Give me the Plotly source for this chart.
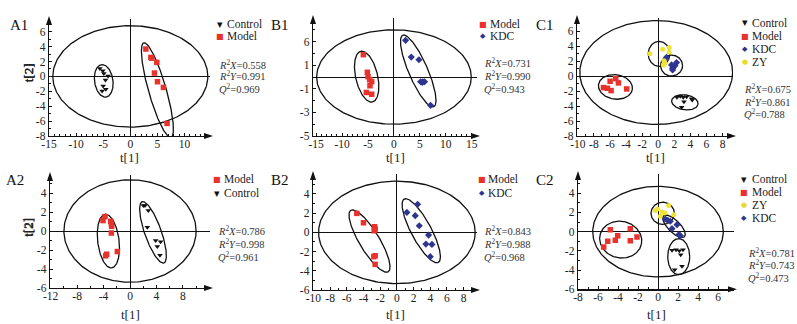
import numpy as np
import plotly.graph_objects as go

W, H = 797, 324

# ---------------- data ----------------
A1_control_x = [-5.62, -5.07, -4.89, -4.10, -4.58, -5.01, -4.52, -5.20]
A1_control_y = [1.07, 0.76, 0.40, 0.04, -0.49, -1.30, -1.74, -1.97]
A1_model_x = [2.87, 3.79, 3.95, 4.89, 4.46, 5.01, 6.11, 6.78]
A1_model_y = [3.67, 2.55, 2.45, 1.88, 0.45, -0.72, -1.48, -6.31]
A1_stats = ["0.558", "0.991", "0.969"]

B1_model_x = [-5.90, -5.13, -5.00, -4.68, -4.29, -4.62, -5.32, -4.29]
B1_model_y = [1.89, 0.40, 0.03, -0.23, -0.40, -0.74, -1.31, -1.46]
B1_kdc_x = [2.24, 3.33, 4.81, 5.13, 5.58, 5.90, 5.45, 7.05]
B1_kdc_y = [3.11, 1.69, 1.46, -0.40, -0.40, -0.40, -0.46, -2.40]
B1_stats = ["0.731", "0.990", "0.943"]
B1_ytick_vals = [-5, -3, -1, 1, 3]
B1_ytick_text = ["-5", "-3", "-1", "1", "6"]

C1_control_x = [2.33, 2.74, 3.11, 3.53, 4.15, 4.23, 3.20, 2.91]
C1_control_y = [-2.82, -2.68, -2.82, -2.73, -3.00, -3.18, -3.40, -4.16]
C1_model_x = [-5.98, -5.28, -4.95, -6.81, -6.32, -5.86, -3.92]
C1_model_y = [-0.67, -0.31, -0.89, -1.52, -1.61, -1.92, -1.70]
C1_kdc_x = [1.04, 1.66, 1.79, 2.28, 2.07, 1.79]
C1_kdc_y = [2.55, 1.52, 1.07, 1.83, 1.39, 0.85]
C1_zy_x = [-1.03, 0.55, 1.37, 1.37, 0.71, 0.83, 0.63]
C1_zy_y = [3.00, 3.62, 3.85, 3.22, 2.06, 1.74, 1.52]
C1_stats = ["0.675", "0.861", "0.788"]

A2_model_x = [-3.78, -4.08, -2.92, -2.82, -2.77, -2.82, -1.91, -3.53, -3.68]
A2_model_y = [1.52, 1.10, 1.02, 0.74, 0.49, -0.21, -2.16, -2.44, -2.61]
A2_control_x = [2.02, 2.27, 2.77, 2.62, 3.88, 4.63, 4.13, 4.53]
A2_control_y = [2.69, 2.69, 2.16, 0.39, -0.99, -1.13, -1.63, -2.54]
A2_stats = ["0.786", "0.998", "0.961"]

B2_model_x = [-4.80, -4.00, -2.68, -2.60, -2.72, -2.60, -2.76, -2.60]
B2_model_y = [1.98, 1.00, 0.59, 0.35, 0.17, -2.43, -2.53, -3.33]
B2_kdc_x = [1.20, 2.48, 2.20, 2.68, 3.80, 3.48, 4.20, 4.00]
B2_kdc_y = [2.08, 2.92, 1.74, 0.69, -0.28, -1.22, -1.25, -2.53]
B2_stats = ["0.843", "0.988", "0.968"]

C2_control_x = [1.40, 1.80, 2.13, 2.50, 2.27, 2.40, 1.67]
C2_control_y = [-1.94, -1.88, -1.98, -1.88, -2.40, -3.61, -3.96]
C2_model_x = [-4.77, -2.77, -4.03, -4.27, -5.03, -5.43, -2.77, -2.10]
C2_model_y = [0.21, 0.31, -0.42, -0.90, -1.00, -1.60, -0.94, -0.56]
C2_zy_x = [-0.27, -0.07, 0.40, 0.67, 1.07, 1.57, 0.23]
C2_zy_y = [2.19, 2.36, 2.05, 1.94, 2.71, 1.77, 1.60]
C2_kdc_x = [0.73, 0.97, 1.23, 1.90, 1.40, 2.07, 2.23]
C2_kdc_y = [1.32, 1.18, 1.08, 0.73, 0.31, -0.31, -0.42]
C2_stats = ["0.781", "0.743", "0.473"]

# ---------------- styles ----------------
FONT = "Liberation Serif"
STY = {
    "Control": dict(symbol="triangle-down", color="#111111", size=5, glyph="▾", gsize=11, gcolor="#111"),
    "Model": dict(symbol="square", color="#e8322b", size=5.5, glyph="■", gsize=8, gcolor="#e8322b"),
    "KDC": dict(symbol="diamond", color="#2e3590", size=5.5, glyph="◆", gsize=7, gcolor="#2e3590"),
    "ZY": dict(symbol="circle", color="#f1e236", size=5, glyph="●", gsize=7, gcolor="#e9d92a"),
}

panels = [
    dict(name="A1", xd=(49, 210), yd=(19, 136), xr=(-15, 14.7), yr=(-8, 7.7),
         xt=list(range(-15, 11, 5)), yt=list(range(-8, 7, 2)), xm=1, ym=1,
         groups=[("Control", A1_control_x, A1_control_y), ("Model", A1_model_x, A1_model_y)],
         ell=[(0, 0, 77.5, 50.7, 0), (-4.9, -0.6, 16.4, 9.2, -82), (5.0, -1.86, 49.3, 8.8, -74)],
         stats=A1_stats, lab=(19, 25), leg=(220, 226, [24, 36]), st=(218, [64, 76, 88]), t1=158),
    dict(name="B1", xd=(313, 477), yd=(18, 136), xr=(-15.6, 16), yr=(-5, 5),
         xt=list(range(-15, 16, 5)), yt=B1_ytick_vals, ytt=B1_ytick_text, xm=1, ym=1,
         groups=[("Model", B1_model_x, B1_model_y), ("KDC", B1_kdc_x, B1_kdc_y)],
         ell=[(0, 0, 77.3, 47.2, 0), (-5.26, 0.03, 26, 11, -77), (4.68, 0.51, 39, 9.5, -66.6)],
         stats=B1_stats, lab=(280, 25), leg=(483, 489, [24, 36]), st=(483, [63, 76, 88]), t1=158),
    dict(name="C1", xd=(577, 733), yd=(18, 136), xr=(-10.1, 9.3), yr=(-8, 7.8),
         xt=list(range(-10, 9, 2)), yt=list(range(-8, 7, 2)), xm=1, ym=1,
         groups=[("Control", C1_control_x, C1_control_y), ("Model", C1_model_x, C1_model_y),
                 ("KDC", C1_kdc_x, C1_kdc_y), ("ZY", C1_zy_x, C1_zy_y)],
         ell=[(-0.25, 0.5, 76.4, 51.9, 0), (-5.32, -1.43, 17.1, 12.2, -8), (3.31, -3.49, 13.3, 7.5, -8),
              (0.1, 3.0, 10.8, 12.5, 0), (1.66, 1.43, 11, 10.5, 0)],
         stats=C1_stats, lab=(545, 25), leg=(745, 751, [23, 36, 49, 62]), st=(743, [88, 101, 113]), t1=158),
    dict(name="A2", xd=(50, 210), yd=(175, 288), xr=(-12.1, 12.1), yr=(-6, 5.9),
         xt=list(range(-12, 9, 4)), yt=list(range(-6, 5, 2)), xm=2, ym=1,
         groups=[("Model", A2_model_x, A2_model_y), ("Control", A2_control_x, A2_control_y)],
         ell=[(0, 0, 66.1, 51.2, 0), (-3.27, -1.06, 27, 10.7, -83), (3.48, -0.14, 32.5, 8.3, -70.5)],
         stats=A2_stats, lab=(15, 180), leg=(217, 223, [179, 193]), st=(217, [231, 243, 256]), t1=314),
    dict(name="B2", xd=(313, 477), yd=(174, 290), xr=(-10.05, 9.6), yr=(-6, 6.08),
         xt=list(range(-10, 9, 2)), yt=list(range(-6, 5, 2)), xm=1, ym=1,
         groups=[("Model", B2_model_x, B2_model_y), ("KDC", B2_kdc_x, B2_kdc_y)],
         ell=[(0, 0, 78.3, 51.2, 0), (-3.28, -0.9, 36, 10, -58.8), (2.92, 0.17, 36, 10, -61.8)],
         stats=B2_stats, lab=(280, 180), leg=(482, 487, [179, 193]), st=(483, [231, 243, 256]), t1=314),
    dict(name="C2", xd=(578, 734), yd=(174, 289.3), xr=(-8, 7.6), yr=(-6, 6.0),
         xt=list(range(-8, 7, 2)), yt=list(range(-6, 5, 2)), xm=1, ym=1,
         groups=[("Control", C2_control_x, C2_control_y), ("Model", C2_model_x, C2_model_y),
                 ("ZY", C2_zy_x, C2_zy_y), ("KDC", C2_kdc_x, C2_kdc_y)],
         ell=[(0, 0, 65.3, 45.3, 0), (-3.73, -0.83, 21.2, 18.3, -12), (0.47, 1.91, 11.7, 11.1, 0),
              (1.6, 0.56, 14.7, 6, -45), (2.07, -2.6, 11, 18, 0)],
         stats=C2_stats, lab=(545, 180), leg=(744, 751, [179, 192, 205, 218]), st=(747, [252, 264, 277]), t1=314),
]


def px(x):
    return x / W


def py(y):
    return 1 - y / H


fig = go.Figure()
layout = dict(template="none", width=W, height=H,
              margin=dict(l=0, r=0, t=0, b=0, pad=0, autoexpand=False),
              paper_bgcolor="white", plot_bgcolor="white", showlegend=False)
shapes, annotations = [], []
tfont = dict(family=FONT, size=11.5, color="#222")

for i, p in enumerate(panels):
    n = "" if i == 0 else str(i + 1)
    xa, ya = "x" + n, "y" + n
    (x0, x1), (y0, y1) = p["xd"], p["yd"]
    kx = (x1 - x0) / (p["xr"][1] - p["xr"][0])
    ky = (y1 - y0) / (p["yr"][1] - p["yr"][0])
    common = dict(showgrid=False, showline=True, linecolor="#111", linewidth=1.3, automargin=False,
                  zeroline=True, zerolinecolor="#111", zerolinewidth=1,
                  ticks="inside", ticklen=3, tickcolor="#111", tickfont=tfont,
                  tickmode="array", fixedrange=True)
    layout["xaxis" + n] = dict(common, domain=[px(x0), px(x1)], range=list(p["xr"]),
                               anchor=ya, tickvals=p["xt"], ticktext=[str(v) for v in p["xt"]],
                               ticklabelstandoff=-3,
                               minor=dict(ticks="inside", ticklen=2, tickcolor="#111", dtick=p["xm"]))
    layout["yaxis" + n] = dict(common, domain=[py(y1), py(y0)], range=list(p["yr"]),
                               anchor=xa, tickvals=p["yt"],
                               ticktext=p.get("ytt", [str(v) for v in p["yt"]]),
                               minor=dict(ticks="inside", ticklen=2, tickcolor="#111", dtick=p["ym"]))
    # ellipses
    t = np.linspace(0, 2 * np.pi, 240)
    for (cx, cy, a, b, ang) in p["ell"]:
        th = np.deg2rad(ang)
        X = a * np.cos(t) * np.cos(th) - b * np.sin(t) * np.sin(th)
        Y = a * np.cos(t) * np.sin(th) + b * np.sin(t) * np.cos(th)
        fig.add_trace(go.Scatter(x=cx + X / kx, y=cy + Y / ky, mode="lines",
                                 line=dict(color="#111", width=1.3), hoverinfo="skip",
                                 xaxis=xa, yaxis=ya))
    # points
    for g, gx, gy in p["groups"]:
        s = STY[g]
        fig.add_trace(go.Scatter(x=gx, y=gy, mode="markers", name=g,
                                 marker=dict(symbol=s["symbol"], color=s["color"], size=s["size"],
                                             line=dict(width=0)),
                                 xaxis=xa, yaxis=ya))
    # arrows
    shapes.append(dict(type="path", xref="paper", yref="paper", fillcolor="#111", line=dict(width=0),
                       path=f"M {px(x0)} {py(y0 - 3)} L {px(x0 - 3)} {py(y0 + 6)} L {px(x0 + 3)} {py(y0 + 6)} Z"))
    shapes.append(dict(type="path", xref="paper", yref="paper", fillcolor="#111", line=dict(width=0),
                       path=f"M {px(x1 + 3)} {py(y1)} L {px(x1 - 6)} {py(y1 - 3)} L {px(x1 - 6)} {py(y1 + 3)} Z"))
    # axis titles
    annotations.append(dict(x=px((x0 + x1) / 2), y=py(p["t1"]), xref="paper", yref="paper",
                            xanchor="center", yanchor="middle",
                            text="t[1]", showarrow=False, font=dict(family=FONT, size=13, color="#222")))
    annotations.append(dict(x=px(28), y=py((y0 + y1) / 2 - 4), xref="paper", yref="paper",
                            xanchor="center", yanchor="middle",
                            text="t[2]", showarrow=False, textangle=-90,
                            font=dict(family=FONT, size=13, color="#222")))
    # panel label
    annotations.append(dict(x=px(p["lab"][0]), y=py(p["lab"][1]), xref="paper", yref="paper",
                            xanchor="center", yanchor="middle",
                            text=p["name"], showarrow=False, font=dict(family=FONT, size=15, color="#111")))
    # legend
    mx, tx, ys = p["leg"]
    for (g, _, _), yy in zip(p["groups"], ys):
        s = STY[g]
        annotations.append(dict(x=px(mx), y=py(yy), xref="paper", yref="paper", text=s["glyph"],
                                xanchor="center", yanchor="middle", showarrow=False, borderpad=0,
                                font=dict(family="DejaVu Sans", size=s["gsize"], color=s["gcolor"])))
        annotations.append(dict(x=px(tx), y=py(yy), xref="paper", yref="paper", text=g,
                                xanchor="left", yanchor="middle", borderpad=0,
                                showarrow=False, font=dict(family=FONT, size=11.5, color="#222")))
    # stats
    sx, sys_ = p["st"]
    labels = ["<i>R</i><sup>2</sup><i>X</i>=", "<i>R</i><sup>2</sup><i>Y</i>=", "<i>Q</i><sup>2</sup>="]
    for lab, val, yy in zip(labels, p["stats"], sys_):
        annotations.append(dict(x=px(sx), y=py(yy), xref="paper", yref="paper", text=lab + val,
                                xanchor="left", yanchor="middle", showarrow=False, borderpad=0,
                                font=dict(family=FONT, size=10.5, color="#333")))

layout["shapes"] = shapes
layout["annotations"] = annotations
fig.update_layout(**layout)
fig.write_html("out.html", config={"displayModeBar": False, "staticPlot": True},
               post_script="document.body.style.margin='0';document.body.style.padding='0';")
